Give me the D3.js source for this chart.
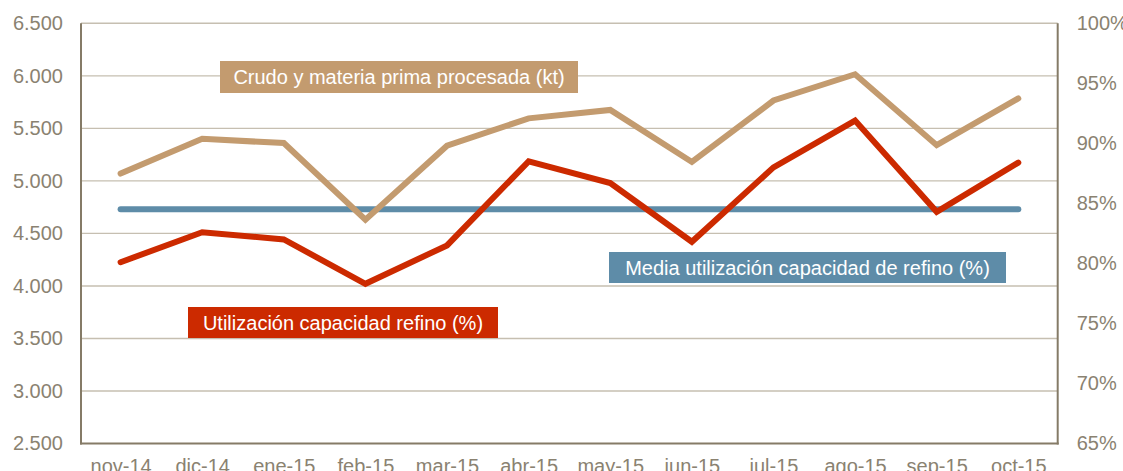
<!DOCTYPE html>
<html>
<head>
<meta charset="utf-8">
<script src="https://cdn.jsdelivr.net/npm/d3@7"></script>
<style>
  html, body { margin: 0; padding: 0; background: #fff; }
  svg { display: block; font-family: "Liberation Sans", Arial, sans-serif; }
</style>
</head>
<body>
<svg id="chart" width="1123" height="471"></svg>
<script>
// Meses del periodo
const months = ["nov-14", "dic-14", "ene-15", "feb-15", "mar-15", "abr-15",
                "may-15", "jun-15", "jul-15", "ago-15", "sep-15", "oct-15"];

// Crudo y materia prima procesada (kt) - eje izquierdo
const crudeKt = [5070, 5400, 5360, 4630, 5335, 5595, 5675, 5180, 5765, 6015, 5340, 5785];

// Utilización de la capacidad de refino (%) - eje derecho
const utilization = [80.1, 82.6, 82.0, 78.3, 81.5, 88.5, 86.7, 81.8, 88.0, 91.9, 84.3, 88.4];

// Marcas de los ejes
const leftTicks = [2500, 3000, 3500, 4000, 4500, 5000, 5500, 6000, 6500];
const rightTicks = [65, 70, 75, 80, 85, 90, 95, 100];

const labels = {
  crude: "Crudo y materia prima procesada (kt)",
  mean: "Media utilización capacidad de refino (%)",
  util: "Utilización capacidad refino (%)"
};

const colors = {
  crude: "#C39B6F",
  util: "#CC2A00",
  mean: "#5E8CA8",
  axis: "#857B67",
  grid: "#C6BFB1",
  text: "#8A8271"
};

const svg = d3.select("#chart");
const plot = { left: 81, right: 1057.7, top: 23.3, bottom: 443.5 };

const x = d3.scalePoint().domain(months).range([120.6, 1018.3]);
const yL = d3.scaleLinear().domain([2500, 6500]).range([plot.bottom, plot.top]);
const yR = d3.scaleLinear().domain([65, 100]).range([plot.bottom, plot.top]);

const fmtL = v => d3.format(",")(v).replace(/,/g, ".");
const fmtR = v => v + "%";

// Líneas de cuadrícula horizontales
svg.append("g")
  .selectAll("line")
  .data(leftTicks.filter(t => t > 2500))
  .join("line")
  .attr("x1", plot.left).attr("x2", plot.right)
  .attr("y1", d => yL(d)).attr("y2", d => yL(d))
  .attr("stroke", colors.grid).attr("stroke-width", 1.4);

// Ejes izquierdo, derecho e inferior (sin marcas)
const axisL = svg.append("g").attr("transform", `translate(${plot.left},0)`)
  .call(d3.axisLeft(yL).tickValues(leftTicks).tickFormat(fmtL).tickSize(0).tickPadding(18));
const axisR = svg.append("g").attr("transform", `translate(${plot.right},0)`)
  .call(d3.axisRight(yR).tickValues(rightTicks).tickFormat(fmtR).tickSize(0).tickPadding(19));
const axisB = svg.append("g").attr("transform", `translate(0,${plot.bottom})`)
  .call(d3.axisBottom(x).tickSize(0).tickPadding(10));

[axisL, axisR, axisB].forEach(g => {
  g.select(".domain").remove();
  g.selectAll("text")
    .attr("fill", colors.text)
    .style("font-size", "20px")
    .style("font-family", "'Liberation Sans', Arial, sans-serif");
});
axisB.selectAll("text").attr("dy", "0.95em");

svg.append("line")
  .attr("x1", plot.left).attr("x2", plot.left)
  .attr("y1", plot.top).attr("y2", plot.bottom + 1)
  .attr("stroke", colors.axis).attr("stroke-width", 2);
svg.append("line")
  .attr("x1", plot.right).attr("x2", plot.right)
  .attr("y1", plot.top).attr("y2", plot.bottom + 1)
  .attr("stroke", colors.axis).attr("stroke-width", 2);
svg.append("line")
  .attr("x1", plot.left - 1).attr("x2", plot.right + 1)
  .attr("y1", plot.bottom).attr("y2", plot.bottom)
  .attr("stroke", colors.axis).attr("stroke-width", 2);

// Series
const meanUtil = d3.mean(utilization);

const lineL = d3.line().x((d, i) => x(months[i])).y(d => yL(d));
const lineR = d3.line().x((d, i) => x(months[i])).y(d => yR(d));

svg.append("path")
  .datum(months.map(() => meanUtil))
  .attr("d", lineR)
  .attr("fill", "none").attr("stroke", colors.mean)
  .attr("stroke-width", 6).attr("stroke-linecap", "round");

svg.append("path")
  .datum(crudeKt)
  .attr("d", lineL)
  .attr("fill", "none").attr("stroke", colors.crude)
  .attr("stroke-width", 6).attr("stroke-linecap", "round").attr("stroke-linejoin", "miter");

svg.append("path")
  .datum(utilization)
  .attr("d", lineR)
  .attr("fill", "none").attr("stroke", colors.util)
  .attr("stroke-width", 6).attr("stroke-linecap", "round").attr("stroke-linejoin", "miter");

// Etiquetas de las series
function tag(text, fill, left, top, w, h) {
  const g = svg.append("g");
  g.append("rect")
    .attr("x", left).attr("y", top).attr("width", w).attr("height", h)
    .attr("fill", fill);
  g.append("text")
    .attr("x", left + w / 2).attr("y", top + h / 2)
    .attr("text-anchor", "middle").attr("dy", "0.36em")
    .attr("fill", "#fff").style("font-size", "20px")
    .text(text);
}

tag(labels.crude, colors.crude, 220, 61, 358, 32);
tag(labels.mean, colors.mean, 609, 252, 397, 31);
tag(labels.util, colors.util, 188, 307, 310, 31);
</script>
</body>
</html>
